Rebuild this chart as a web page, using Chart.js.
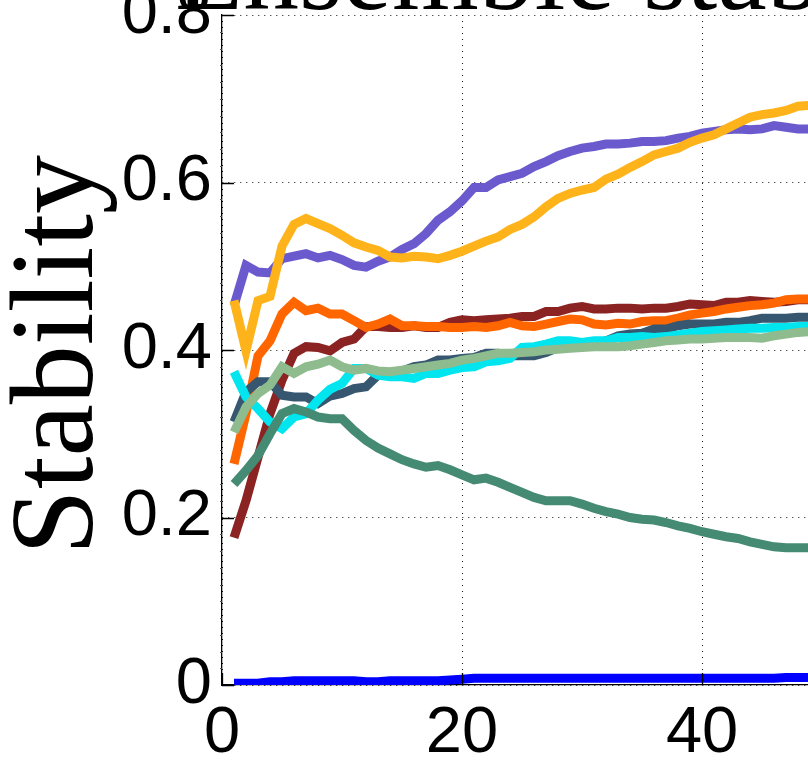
<!DOCTYPE html>
<html lang="en">
<head>
<meta charset="UTF-8">
<title>Ensemble stability</title>
<script src="https://cdn.jsdelivr.net/npm/chart.js"></script>
<style>
  html, body { margin: 0; padding: 0; background: #fff; overflow: hidden; }
  canvas { display: block; }
</style>
</head>
<body>
<canvas id="stabilityChart" width="808" height="762"></canvas>
<script>
// iteration index 1..49
const steps = Array.from({length: 49}, (_, i) => i + 1);

const purpleSeries = [0.453, 0.501, 0.493, 0.492, 0.509, 0.512, 0.515, 0.510, 0.513, 0.508,
  0.501, 0.499, 0.506, 0.511, 0.520, 0.527, 0.539, 0.555, 0.565, 0.578,
  0.594, 0.594, 0.603, 0.607, 0.611, 0.619, 0.625, 0.632, 0.637, 0.641,
  0.643, 0.646, 0.646, 0.647, 0.649, 0.649, 0.650, 0.653, 0.655, 0.659,
  0.661, 0.663, 0.664, 0.663, 0.664, 0.668, 0.666, 0.664, 0.664];
const goldSeries = [0.459, 0.399, 0.459, 0.464, 0.524, 0.550, 0.557, 0.551, 0.545, 0.537,
  0.528, 0.523, 0.519, 0.511, 0.510, 0.512, 0.511, 0.509, 0.513, 0.518,
  0.524, 0.530, 0.535, 0.544, 0.550, 0.559, 0.571, 0.581, 0.587, 0.591,
  0.594, 0.604, 0.610, 0.618, 0.625, 0.633, 0.637, 0.641, 0.648, 0.653,
  0.657, 0.664, 0.671, 0.678, 0.681, 0.683, 0.686, 0.691, 0.692];
const orangeSeries = [0.264, 0.324, 0.393, 0.411, 0.443, 0.457, 0.447, 0.450, 0.443, 0.443,
  0.435, 0.427, 0.431, 0.437, 0.429, 0.429, 0.428, 0.428, 0.427, 0.427,
  0.428, 0.427, 0.429, 0.433, 0.429, 0.428, 0.431, 0.434, 0.437, 0.436,
  0.431, 0.430, 0.432, 0.431, 0.434, 0.435, 0.435, 0.438, 0.442, 0.444,
  0.446, 0.449, 0.451, 0.453, 0.454, 0.456, 0.460, 0.461, 0.461];
const brownSeries = [0.176, 0.220, 0.272, 0.324, 0.364, 0.396, 0.404, 0.403, 0.399, 0.409,
  0.413, 0.428, 0.428, 0.427, 0.427, 0.429, 0.427, 0.427, 0.433, 0.436,
  0.435, 0.436, 0.437, 0.438, 0.440, 0.440, 0.446, 0.446, 0.450, 0.452,
  0.449, 0.449, 0.450, 0.450, 0.449, 0.450, 0.450, 0.452, 0.455, 0.454,
  0.453, 0.457, 0.457, 0.459, 0.458, 0.457, 0.458, 0.460, 0.460];
const sageSeries = [0.302, 0.332, 0.348, 0.358, 0.380, 0.372, 0.380, 0.383, 0.388, 0.380,
  0.376, 0.378, 0.375, 0.374, 0.376, 0.378, 0.380, 0.382, 0.384, 0.388,
  0.390, 0.393, 0.396, 0.396, 0.397, 0.398, 0.400, 0.401, 0.402, 0.403,
  0.404, 0.404, 0.404, 0.405, 0.407, 0.409, 0.411, 0.412, 0.413, 0.413,
  0.414, 0.415, 0.415, 0.415, 0.414, 0.417, 0.419, 0.421, 0.422];
const cyanSeries = [0.374, 0.344, 0.330, 0.314, 0.306, 0.320, 0.324, 0.340, 0.353, 0.360,
  0.378, 0.378, 0.370, 0.368, 0.368, 0.366, 0.372, 0.372, 0.376, 0.379,
  0.380, 0.386, 0.387, 0.390, 0.403, 0.404, 0.407, 0.411, 0.411, 0.409,
  0.411, 0.411, 0.415, 0.415, 0.416, 0.415, 0.416, 0.418, 0.420, 0.422,
  0.423, 0.424, 0.425, 0.426, 0.426, 0.427, 0.427, 0.428, 0.428];
const slateSeries = [0.314, 0.350, 0.362, 0.362, 0.346, 0.344, 0.344, 0.336, 0.345, 0.348,
  0.354, 0.356, 0.370, 0.372, 0.375, 0.380, 0.382, 0.388, 0.388, 0.390,
  0.391, 0.396, 0.396, 0.393, 0.393, 0.393, 0.397, 0.403, 0.404, 0.404,
  0.407, 0.411, 0.417, 0.419, 0.420, 0.425, 0.425, 0.429, 0.431, 0.431,
  0.431, 0.433, 0.433, 0.435, 0.438, 0.438, 0.438, 0.439, 0.439];
const tealSeries = [0.240, 0.256, 0.274, 0.300, 0.324, 0.330, 0.326, 0.320, 0.318, 0.318,
  0.304, 0.292, 0.283, 0.276, 0.269, 0.264, 0.260, 0.262, 0.257, 0.251,
  0.245, 0.247, 0.242, 0.236, 0.230, 0.224, 0.220, 0.220, 0.220, 0.216,
  0.211, 0.207, 0.204, 0.200, 0.198, 0.197, 0.194, 0.190, 0.187, 0.183,
  0.180, 0.177, 0.175, 0.171, 0.168, 0.165, 0.164, 0.164, 0.164];
const blueSeries = [0.002, 0.002, 0.002, 0.004, 0.004, 0.005, 0.005, 0.005, 0.005, 0.005,
  0.005, 0.004, 0.004, 0.005, 0.005, 0.005, 0.005, 0.005, 0.006, 0.007,
  0.008, 0.008, 0.008, 0.008, 0.008, 0.008, 0.008, 0.008, 0.008, 0.008,
  0.008, 0.008, 0.008, 0.008, 0.008, 0.008, 0.008, 0.008, 0.008, 0.008,
  0.008, 0.008, 0.008, 0.008, 0.008, 0.008, 0.009, 0.009, 0.009];

const xTicks = [0, 20, 40];
const yTicks = [0, 0.2, 0.4, 0.6, 0.8];

// drawing order: first entry ends up underneath
const seriesList = [
  { data: blueSeries,   color: '#0000FF' },
  { data: tealSeries,   color: '#458B74' },
  { data: sageSeries,   color: '#8FBC8F' },
  { data: cyanSeries,   color: '#00E5EE' },
  { data: slateSeries,  color: '#36576F' },
  { data: orangeSeries, color: '#FF6600' },
  { data: brownSeries,  color: '#8B2323' },
  { data: goldSeries,   color: '#FFB31A' },
  { data: purpleSeries, color: '#6A5ACD' }
];

const toPoints = vals => steps.map((s, i) => ({ x: s, y: vals[i] }));

// pick a font size so that `text` spans `target` pixels
function fitSerif(ctx, text, target) {
  ctx.font = '100px "Liberation Serif"';
  const m = ctx.measureText(text);
  const size = 100 * target / (m.actualBoundingBoxLeft + m.actualBoundingBoxRight);
  ctx.font = size + 'px "Liberation Serif"';
  return ctx.measureText(text);
}

// axis decorations: inward major ticks, small minor ticks, y label and title
const decorations = {
  id: 'decorations',
  afterDatasetsDraw(chart) {
    const { ctx, chartArea, scales } = chart;
    const x = scales.x, y = scales.y;
    ctx.save();
    ctx.strokeStyle = '#000';
    ctx.lineWidth = 1.3;
    ctx.beginPath();
    yTicks.forEach(v => {
      const py = Math.round(y.getPixelForValue(v)) + 0.5;
      ctx.moveTo(chartArea.left, py);
      ctx.lineTo(chartArea.left + 12, py);
    });
    xTicks.forEach(v => {
      const px = Math.round(x.getPixelForValue(v)) + 0.5;
      ctx.moveTo(px, chartArea.bottom);
      ctx.lineTo(px, chartArea.bottom - 12);
    });
    ctx.stroke();

    ctx.strokeStyle = '#555';
    ctx.lineWidth = 1;
    ctx.beginPath();
    for (let k = 1; k < 40; k++) {
      if (k % 10 === 0) continue;
      const py = Math.round(y.getPixelForValue(k * 0.02)) + 0.5;
      ctx.moveTo(chartArea.left - 2, py);
      ctx.lineTo(chartArea.left, py);
    }
    ctx.stroke();

    // y axis label, reading bottom to top
    ctx.fillStyle = '#000';
    ctx.textAlign = 'left';
    ctx.textBaseline = 'alphabetic';
    const ml = fitSerif(ctx, 'Stability', 393);
    ctx.translate(92, 548 - ml.actualBoundingBoxLeft);
    ctx.rotate(-Math.PI / 2);
    ctx.fillText('Stability', 0, 0);
    ctx.restore();

    // title, mostly above the canvas
    ctx.save();
    ctx.fillStyle = '#000';
    ctx.textAlign = 'left';
    ctx.textBaseline = 'alphabetic';
    const mt = fitSerif(ctx, 'Ensemble', 434);
    ctx.fillText('Ensemble stability', 178 + mt.actualBoundingBoxLeft, 9);
    ctx.restore();
  }
};

const ctx = document.getElementById('stabilityChart').getContext('2d');
const stabilityChart = new Chart(ctx, {
  type: 'line',
  data: {
    datasets: seriesList.map(s => ({
      data: toPoints(s.data),
      borderColor: s.color,
      backgroundColor: s.color,
      borderWidth: 9,
      pointRadius: 0,
      tension: 0,
      fill: false,
      clip: 0
    }))
  },
  options: {
    responsive: false,
    animation: false,
    devicePixelRatio: 1,
    layout: { padding: { top: 15, left: 0, right: 0, bottom: 0 } },
    plugins: {
      legend: { display: false },
      tooltip: { enabled: false },
      title: { display: false }
    },
    scales: {
      x: {
        type: 'linear',
        min: 0,
        max: 48.83,
        afterBuildTicks: scale => { scale.ticks = xTicks.map(v => ({ value: v })); },
        afterFit: scale => {
          scale.height = 77;
          scale.paddingLeft = 0;
          scale.paddingRight = 0;
        },
        ticks: {
          color: '#000',
          font: { family: 'Liberation Sans', size: 65 },
          padding: 10,
          maxRotation: 0
        },
        grid: { color: '#111', lineWidth: 1, drawTicks: false },
        border: { display: true, color: '#000', width: 1.3, dash: [1, 5] }
      },
      y: {
        min: 0,
        max: 0.8,
        afterBuildTicks: scale => { scale.ticks = yTicks.map(v => ({ value: v })); },
        afterFit: scale => {
          scale.width = 222;
          scale.paddingTop = 0;
          scale.paddingBottom = 0;
        },
        ticks: {
          color: '#000',
          font: { family: 'Liberation Sans', size: 65 },
          padding: 10
        },
        grid: { color: '#111', lineWidth: 1, drawTicks: false },
        border: { display: true, color: '#000', width: 1.3, dash: [1, 5] }
      }
    }
  },
  plugins: [decorations]
});
</script>
</body>
</html>
